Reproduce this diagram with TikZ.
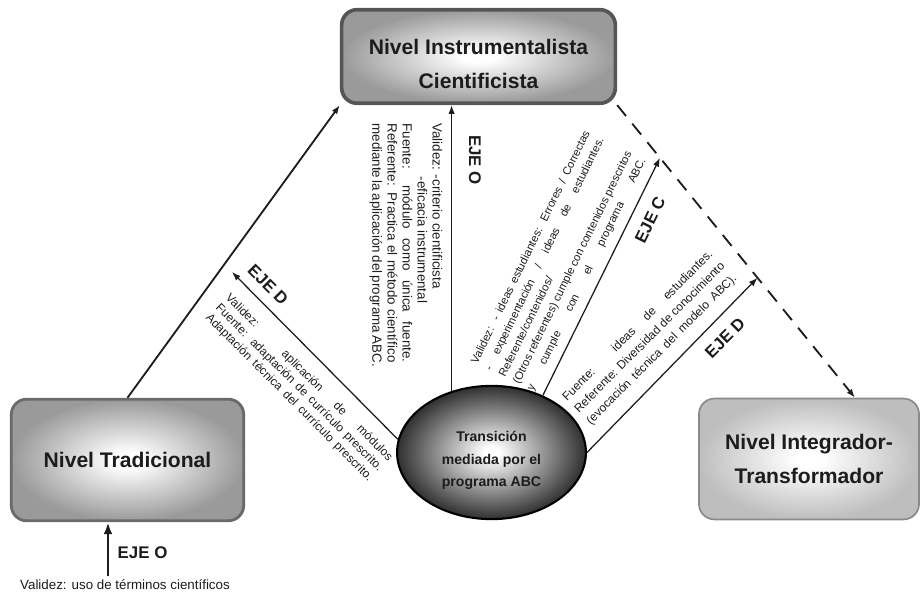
\documentclass[tikz,border=0pt]{standalone}
\usepackage{fontspec}
\setmainfont{Liberation Sans}
\usetikzlibrary{arrows.meta,calc,positioning,shapes.geometric}
\definecolor{BoxGray}{HTML}{9A9A9A}
\definecolor{BoxPale}{HTML}{BEBEBE}
\definecolor{CoreGray}{HTML}{303030}
\definecolor{RimDark}{HTML}{555555}
\definecolor{RimMid}{HTML}{6A6A6A}
\definecolor{RimPale}{HTML}{8A8A8A}
\definecolor{Ink}{HTML}{1C1C1C}
\pgfdeclareradialshading{glowgray}{\pgfpoint{0bp}{0bp}}{color(0bp)=(white); color(3bp)=(white); color(25bp)=(BoxGray); color(50bp)=(BoxGray)}
\pgfdeclareradialshading{glowpale}{\pgfpoint{0bp}{0bp}}{color(0bp)=(white); color(3bp)=(white); color(25bp)=(BoxPale); color(50bp)=(BoxPale)}
\pgfdeclareradialshading{glowcore}{\pgfpoint{0bp}{0bp}}{color(0bp)=(white); color(2bp)=(white); color(25bp)=(CoreGray); color(50bp)=(CoreGray)}
\newcommand{\jline}[2]{\makebox[#1][s]{#2}}

\begin{document}
\begin{tikzpicture}[x=0.025cm,y=0.025cm,>={Latex[length=2.2mm,width=1.6mm]},
    every node/.style={text=Ink},
    nivel/.style={rounded corners=11pt,align=center,font=\fontsize{15}{24}\selectfont\bfseries},
    eje/.style={font=\fontsize{12}{14}\selectfont\bfseries,inner sep=1pt},
    nota/.style={rotate=#1,align=left,inner sep=0pt,font=\fontsize{8.5}{10.5}\selectfont},
    flecha/.style={->,Ink,line width=0.9pt}]
  \useasboundingbox (0,0) rectangle (922,597);

  \node[nivel,draw=RimDark,line width=2.6pt,shading=glowgray,
        minimum width=6.84cm,minimum height=2.34cm] (inst) at (478.5,540.5)
        {\rule{0pt}{22pt}Nivel Instrumentalista\\Cientificista};
  \node[nivel,draw=RimMid,line width=2pt,shading=glowgray,
        minimum width=5.81cm,minimum height=3.04cm] (trad) at (127.5,137)
        {Nivel Tradicional};
  \node[nivel,draw=RimPale,line width=1.2pt,shading=glowpale,
        minimum width=5.5cm,minimum height=3.02cm] (integ) at (809,138)
        {Nivel Integrador-\\Transformador};
  \node[ellipse,draw=black,line width=1.5pt,shading=glowcore,inner sep=0pt,
        minimum width=4.72cm,minimum height=3.33cm,align=center,
        font=\fontsize{10}{16}\selectfont\bfseries] (abc) at (491.5,144.5)
        {\rule{0pt}{19pt}Transición\\mediada por el\\programa ABC};

  \coordinate (dtip) at ($(integ.north)+(46,0)$);
  \coordinate (ctip) at ($(inst.south east)!0.18!(dtip)$);
  \coordinate (rdtip) at ($(inst.south east)!0.59!(dtip)$);
  \coordinate (ldtip) at (232,325);

  \draw[->,Ink,line width=1.3pt] (trad.north) -- (inst.south west);
  \draw[->,Ink,line width=1.3pt,dash pattern=on 10pt off 7pt] (inst.south east) -- (dtip);
  \draw[flecha] (abc.123) -- (abc.123 |- inst.south);
  \draw[flecha] (abc.172) -- (ldtip);
  \draw[flecha] (abc.48) -- (ctip);
  \draw[flecha] (abc.east) -- (rdtip);

  \node[eje,rotate=-90] (ejeo) at (475,437) {EJE O};
  \node[nota=-90,font=\fontsize{9.5}{10.7}\selectfont] (valinst) at (406,354)
    {Validez: -criterio cientificista\\
     \hspace*{38pt}-eficacia instrumental\\
     \jline{170pt}{Fuente: módulo como única fuente.}\\
     \jline{170pt}{Referente: Practica el método científico}\\
     \jline{170pt}{mediante la aplicación del programa ABC.}};

  \node[eje,rotate=-45] (ejedl) at (268,312) {EJE D};
  \node[nota=-45,font=\fontsize{8.5}{10}\selectfont] (valdl) at (299,209)
    {\jline{164pt}{Validez: aplicación de módulos}\\
     \jline{164pt}{Fuente: adaptación de currículo prescrito.}\\
     \jline{164pt}{Adaptación técnica del currículo prescrito.}};

  \node[eje,rotate=64] (ejec) at (650,377) {EJE C};
  \node[nota=64,font=\fontsize{8}{11}\selectfont] (valc) at (559,336)
    {\jline{183pt}{Validez: - ideas estudiantes: Errores / Correctas}\\
     \jline{183pt}{- experimentación / ideas de estudiantes.}\\
     Referente/contenidos/\\
     \jline{183pt}{(Otros referentes) cumple con contenidos prescritos}\\
     \jline{183pt}{y cumple con el programa ABC.}};

  \node[eje,rotate=45] (ejedr) at (725,259) {EJE D};
  \node[nota=45,font=\fontsize{8.5}{12}\selectfont] (valdr) at (650,259)
    {\jline{147pt}{Fuente: ideas de estudiantes.}\\
     \jline{147pt}{Referente: Diversidad de conocimiento}\\
     \jline{147pt}{(evocación técnica del modelo ABC).}};

  \coordinate (pie) at (108,21);
  \draw[->,Ink,line width=2pt,>={Latex[length=3mm,width=2.2mm]}] (pie) -- (pie |- trad.south);
  \node[eje,anchor=west] (ejeot) at (116,44) {EJE O};
  \node[font=\fontsize{9.5}{11}\selectfont] (valtrad) at (125,12)
    {Validez: uso de términos científicos};
\end{tikzpicture}
\end{document}
